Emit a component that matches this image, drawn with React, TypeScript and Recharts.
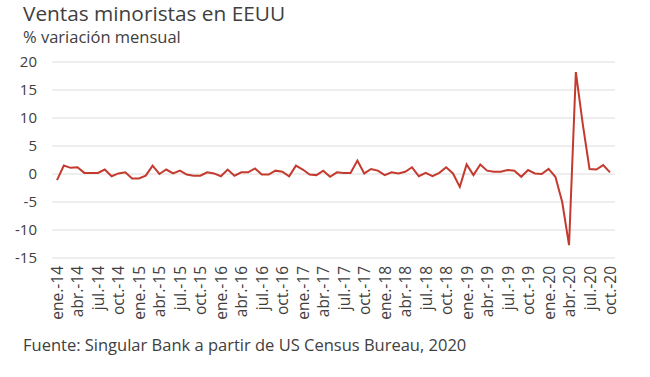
import React from 'react';
import { LineChart, Line, XAxis, YAxis, CartesianGrid } from 'recharts';

const MONTHS = ['ene.', 'feb.', 'mar.', 'abr.', 'may.', 'jun.', 'jul.', 'ago.', 'sep.', 'oct.', 'nov.', 'dic.'];
const YEARS = ['14', '15', '16', '17', '18', '19', '20'];

// % variación mensual, ene-14 .. oct-20
const VALUES_2014 = [-1.1, 1.5, 1.1, 1.2, 0.2, 0.2, 0.2, 0.8, -0.4, 0.1, 0.3, -0.8];
const VALUES_2015 = [-0.8, -0.3, 1.5, 0.0, 0.8, 0.1, 0.6, -0.1, -0.3, -0.3, 0.3, 0.1];
const VALUES_2016 = [-0.4, 0.8, -0.3, 0.3, 0.3, 1.0, -0.1, -0.1, 0.6, 0.4, -0.4, 1.5];
const VALUES_2017 = [0.8, -0.1, -0.2, 0.6, -0.5, 0.3, 0.2, 0.2, 2.4, 0.1, 0.9, 0.6];
const VALUES_2018 = [-0.2, 0.3, 0.1, 0.4, 1.2, -0.4, 0.2, -0.4, 0.2, 1.2, 0.1, -2.3];
const VALUES_2019 = [1.7, -0.2, 1.7, 0.6, 0.4, 0.4, 0.7, 0.6, -0.5, 0.7, 0.1, 0.0];
const VALUES_2020 = [0.9, -0.5, -5.0, -12.7, 18.2, 9.0, 0.9, 0.8, 1.6, 0.3];

const Y_TICKS = [-15, -10, -5, 0, 5, 10, 15, 20];

const values = [
  ...VALUES_2014, ...VALUES_2015, ...VALUES_2016, ...VALUES_2017,
  ...VALUES_2018, ...VALUES_2019, ...VALUES_2020,
];

const data = values.map((v, i) => ({
  month: `${MONTHS[i % 12]}-${YEARS[Math.floor(i / 12)]}`,
  value: v,
}));

const TEXT = '#404040';
const FONT = '"Open Sans", Lato, sans-serif';

const RotatedTick = (props: any) => {
  const { x, y, payload } = props;
  return (
    <text
      transform={`translate(${x}, ${y + 6}) rotate(-90)`}
      textAnchor="end"
      dominantBaseline="central"
      fill={TEXT}
      fontSize={15.5}
      fontFamily={FONT}
    >
      {payload.value}
    </text>
  );
};

const App: React.FC = () => {
  return (
    <div style={{ position: 'relative', width: 650, height: 377, background: '#fff', fontFamily: FONT, color: TEXT }}>
      <style>{'body{margin:0}'}</style>
      <div style={{ position: 'absolute', left: 23, top: -1, fontSize: 20.8, lineHeight: '28px' }}>
        Ventas minoristas en EEUU
      </div>
      <div style={{ position: 'absolute', left: 23, top: 26, fontSize: 16.5, lineHeight: '22px' }}>
        % variación mensual
      </div>
      <LineChart width={650} height={377} data={data} margin={{ top: 62, right: 35, bottom: 49, left: 0 }}>
        <CartesianGrid vertical={false} stroke="#dcdcdc" />
        <XAxis
          dataKey="month"
          interval={2}
          axisLine={false}
          tickLine={false}
          tickSize={0}
          height={70}
          padding={{ left: 5, right: 5 }}
          tick={<RotatedTick />}
        />
        <YAxis
          domain={[-15, 20]}
          ticks={Y_TICKS}
          axisLine={false}
          tickLine={false}
          tickSize={0}
          tickMargin={15}
          width={52}
          tick={{ fill: TEXT, fontSize: 15, fontFamily: FONT }}
        />
        <Line
          type="linear"
          dataKey="value"
          stroke="#c43a2e"
          strokeWidth={2}
          dot={false}
          isAnimationActive={false}
        />
      </LineChart>
      <div style={{ position: 'absolute', left: 23, top: 333, fontSize: 16.5, lineHeight: '24px' }}>
        Fuente: Singular Bank a partir de US Census Bureau, 2020
      </div>
    </div>
  );
};

export default App;
